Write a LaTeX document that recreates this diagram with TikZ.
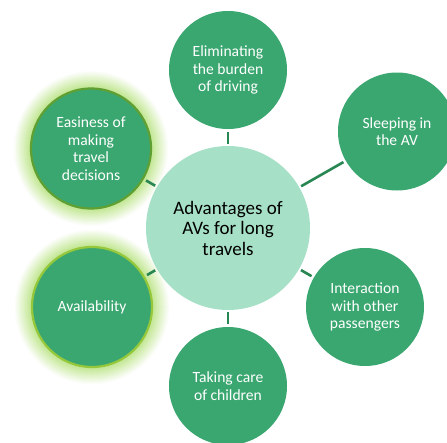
\documentclass[tikz,border=0pt]{standalone}
\usepackage{fontspec}
\setmainfont{Carlito}
\definecolor{sat}{RGB}{58,167,112}
\definecolor{ctr}{RGB}{166,224,198}
\definecolor{conn}{RGB}{40,134,82}
\definecolor{glow}{RGB}{196,232,150}
\definecolor{bordA}{RGB}{96,160,50}
\definecolor{bordB}{RGB}{150,200,60}
\begin{document}
\begin{tikzpicture}[x=1pt,y=-1pt,
  satnode/.style={circle,fill=sat,minimum size=118pt,inner sep=0pt,align=center,text=white,font=\fontsize{15.6}{17.5}\selectfont},
  ctrnode/.style={circle,fill=ctr,minimum size=164pt,inner sep=0pt,align=center,text=black,font=\fontsize{19}{20.5}\selectfont},
  link/.style={draw=conn,line width=2.6pt,shorten <=2pt,shorten >=2.5pt}]
\useasboundingbox (0,0) rectangle (447,442);
\clip (0,0) rectangle (447,442);
% glows
\foreach \i in {0,...,16}{
  \pgfmathsetmacro{\k}{\i*100/16}
  \fill[glow!\k!white] (91,148.5) circle ({78-\i});
  \fill[glow!\k!white] (92,307) circle ({78-\i});
}
\node[ctrnode] (c) at (228,228) {Advantages of\\AVs for long\\travels};
\node[satnode] (top) at (228,70) {Eliminating\\the burden\\of driving};
\node[satnode] (sl) at (397,131.5) {Sleeping in\\the AV};
\node[satnode] (int) at (365,307) {Interaction\\with other\\passengers};
\node[satnode] (bot) at (228,386) {Taking care\\of children};
\node[satnode,draw=bordA,line width=2.2pt,minimum size=120pt] (eas) at (91,148.5) {Easiness of\\making\\travel\\decisions};
\node[satnode,draw=bordB,line width=2.2pt,minimum size=120pt] (av) at (92,307) {Availability};
\draw[link] (c) -- (top);
\draw[link] (c) -- (sl);
\draw[link] (c) -- (int);
\draw[link] (c) -- (bot);
\draw[link] (c) -- (eas);
\draw[link] (c) -- (av);
\end{tikzpicture}
\end{document}
